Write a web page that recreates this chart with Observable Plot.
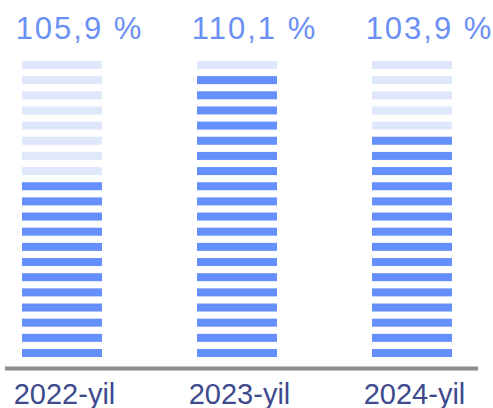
<!DOCTYPE html>
<html>
<head>
<meta charset="utf-8">
<script src="https://cdn.jsdelivr.net/npm/d3@7"></script>
<script src="https://cdn.jsdelivr.net/npm/@observablehq/plot@0.6"></script>
<style>
  html, body { margin: 0; padding: 0; background: #fff; }
  #chart svg { display: block; }
</style>
</head>
<body>
<div id="chart"></div>
<script>
// Data
const years = ["2022-yil", "2023-yil", "2024-yil"];
const valueLabels = ["105,9 %", "110,1 %", "103,9 %"];
const filledStripes = [12, 19, 15];   // dark stripes per column
const totalStripes = 20;              // stripes per column

// Table built from the arrays above
const stripes = [];
years.forEach((yr, j) => {
  for (let i = 0; i < totalStripes; i++) {
    stripes.push({year: yr, idx: i, filled: i < filledStripes[j]});
  }
});
const labels = years.map((yr, j) => ({year: yr, label: valueLabels[j]}));

const chart = Plot.plot({
  width: 493,
  height: 408,
  marginLeft: 21,
  marginRight: 41,
  marginTop: 53.8,
  marginBottom: 51,
  style: {background: "#fff", fontFamily: "Liberation Sans, Arial, sans-serif"},
  x: {domain: years, paddingInner: 0.544, paddingOuter: 0, axis: null},
  y: {domain: [0, totalStripes], axis: null},
  marks: [
    Plot.rect(stripes, {
      x: "year",
      y1: "idx",
      y2: d => d.idx + 0.528,
      fill: d => d.filled ? "#658ffb" : "#dfe7fb"
    }),
    Plot.ruleY([0], {dy: 11, stroke: "#8c8c8c", strokeWidth: 4, insetLeft: -16, insetRight: -26}),
    Plot.text(labels, {
      x: "year",
      y: totalStripes,
      text: "label",
      dy: -15,
      dx: 17,
      lineAnchor: "bottom",
      fontSize: 31,
      fill: "#6a8ff5"
    }),
    Plot.text(years, {
      x: d => d,
      y: 0,
      text: d => d,
      dy: 46,
      dx: 2,
      lineAnchor: "bottom",
      fontSize: 29,
      fill: "#3d4a8e"
    })
  ]
});

d3.select(chart).selectAll("text")
  .filter(function() { return /%/.test(this.textContent); })
  .attr("letter-spacing", "2px");

document.getElementById("chart").appendChild(chart);
</script>
</body>
</html>
